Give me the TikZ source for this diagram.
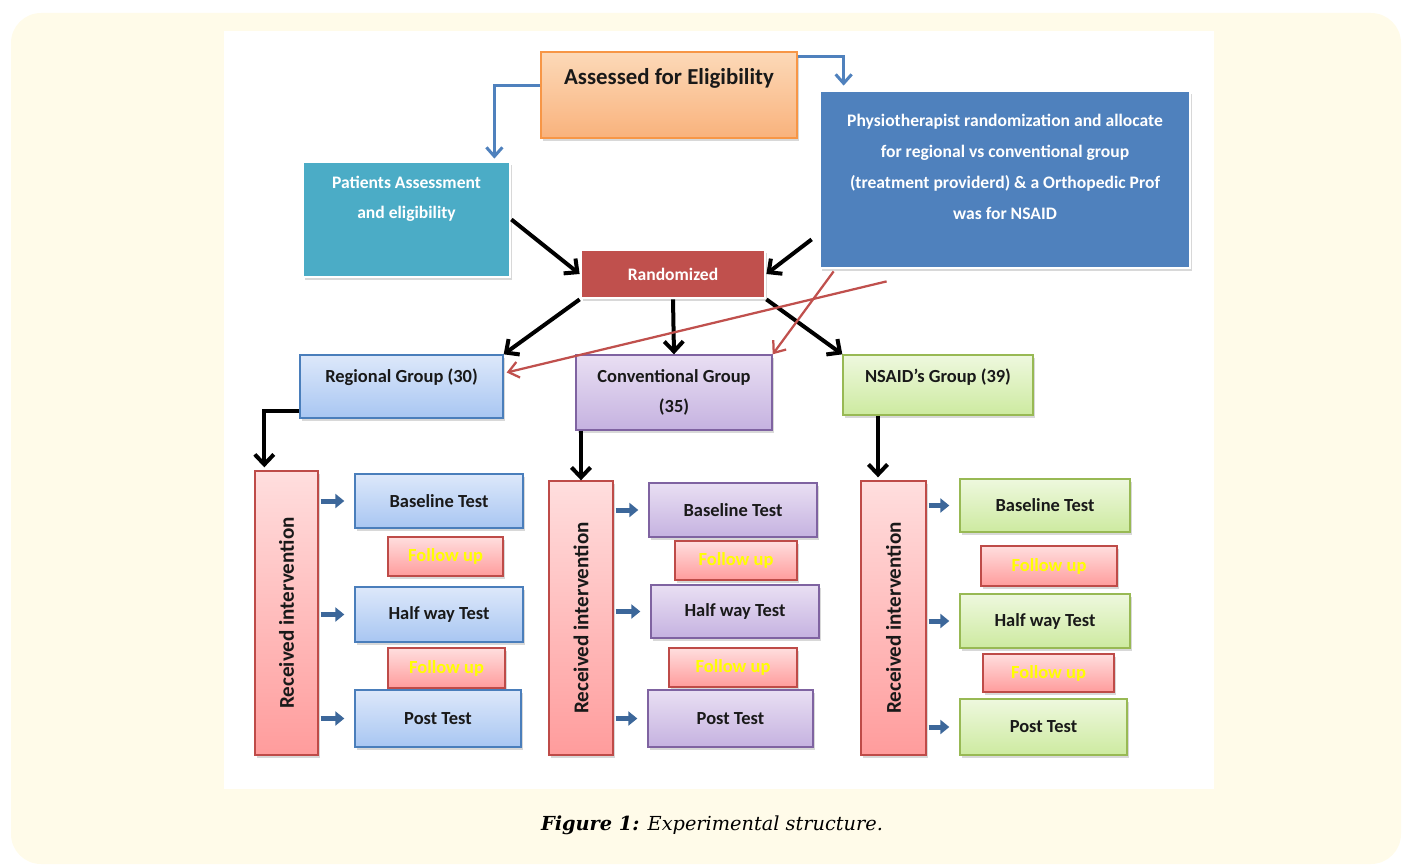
\documentclass[tikz,border=0pt]{standalone}
\usepackage{fontspec}
\setmainfont{Carlito}
\newfontfamily\capfont{DejaVu Serif}
\usepackage{xcolor}
\usepackage{tikz}
\usetikzlibrary{positioning,arrows.meta,shadows,calc}

\definecolor{panelbg}{HTML}{FFFBE9}
\definecolor{orgtop}{HTML}{FCD9B8}
\definecolor{orgbot}{HTML}{F9B27C}
\definecolor{orgline}{HTML}{F79646}
\definecolor{tealfill}{HTML}{4BACC6}
\definecolor{bluefill}{HTML}{4F81BD}
\definecolor{redfill}{HTML}{C0504D}
\definecolor{regtop}{HTML}{DDE8FA}
\definecolor{regbot}{HTML}{A8C6F2}
\definecolor{regline}{HTML}{4A7EBB}
\definecolor{contop}{HTML}{E9DFF3}
\definecolor{conbot}{HTML}{C5B2E0}
\definecolor{conline}{HTML}{7F63A1}
\definecolor{nsatop}{HTML}{EEF8DE}
\definecolor{nsabot}{HTML}{CDEAA0}
\definecolor{nsaline}{HTML}{98B954}
\definecolor{pinktop}{HTML}{FFDEDE}
\definecolor{pinkbot}{HTML}{FF9C9C}
\definecolor{pinkline}{HTML}{BE4B48}
\definecolor{tipblue}{HTML}{3C679A}
\definecolor{fuyellow}{HTML}{FFFF00}

\tikzset{
  shadebox/.style={drop shadow={shadow xshift=1.2pt,shadow yshift=-1.5pt,opacity=.3}, inner sep=1pt, text=black!90},
  orgbox/.style={shadebox, draw=orgline, line width=0.8pt, top color=orgtop, bottom color=orgbot, font=\fontsize{13}{16}\selectfont\bfseries},
  solidbox/.style={shadebox, draw=white, line width=1.6pt, text=white, font=\fontsize{10}{17}\selectfont\bfseries},
  regbox/.style={shadebox, draw=regline, line width=0.8pt, top color=regtop, bottom color=regbot, font=\fontsize{10.5}{17}\selectfont\bfseries},
  conbox/.style={shadebox, draw=conline, line width=0.8pt, top color=contop, bottom color=conbot, font=\fontsize{10.5}{17}\selectfont\bfseries},
  nsabox/.style={shadebox, draw=nsaline, line width=0.8pt, top color=nsatop, bottom color=nsabot, font=\fontsize{10.5}{17}\selectfont\bfseries},
  ribox/.style={shadebox, draw=pinkline, line width=0.8pt, top color=pinktop, bottom color=pinkbot, font=\fontsize{12}{14}\selectfont\bfseries},
  fubox/.style={shadebox, draw=pinkline, line width=0.8pt, top color=pinktop, bottom color=pinkbot, text=fuyellow, font=\fontsize{10.5}{12}\selectfont\bfseries},
  flow/.style={draw=bluefill, line width=0.06cm, -{Straight Barb[length=0.18cm,width=0.32cm]}},
  push/.style={draw=black, line width=0.08cm, -{Straight Barb[length=0.2cm,width=0.38cm]}},
  alloc/.style={draw=redfill, line width=0.045cm, -{Straight Barb[length=0.2cm,width=0.32cm]}},
  tip/.style={draw=tipblue, line width=0.1cm, shorten <=0.04cm, shorten >=0.2cm, -{Triangle[length=0.18cm,width=0.28cm]}}
}

\begin{document}
\begin{tikzpicture}[x=0.02cm, y=-0.02cm]
  % page panel and white plate
  \fill[panelbg, rounded corners=0.6cm] (11,13) rectangle (1401,864);
  \fill[white] (224,31) rectangle (1214,789);
  \useasboundingbox (0,0) rectangle (1402,865);

  % top part
  \node[orgbox, minimum width=5.12cm, minimum height=1.72cm, text depth=0.76cm] (ae) at (669,95) {Assessed for Eligibility};
  \node[solidbox, fill=tealfill, minimum width=4.14cm, minimum height=2.3cm, align=center, text depth=0.9cm] (pa) at (406.5,219.5) {Patients Assessment\\and eligibility};
  \node[solidbox, fill=bluefill, minimum width=7.4cm, minimum height=3.54cm, align=center, text depth=0.52cm, font=\fontsize{10}{17.6}\selectfont\bfseries] (ph) at (1005,179.5) {Physiotherapist randomization and allocate\\for regional vs conventional group\\(treatment providerd) \& a Orthopedic Prof\\was for NSAID};
  \node[solidbox, fill=redfill, minimum width=3.68cm, minimum height=0.96cm] (rz) at (673,274) {Randomized};

  % groups
  \node[regbox, minimum width=4.06cm, minimum height=1.26cm, text depth=0.42cm] (rg) at (401.5,386.5) {Regional Group (30)};
  \node[conbox, minimum width=3.92cm, minimum height=1.5cm, align=center] (cv) at (674,392.5) {Conventional Group\\(35)};
  \node[nsabox, minimum width=3.8cm, minimum height=1.2cm, text depth=0.36cm] (ns) at (938,385) {NSAID’s Group (39)};

  % regional column
  \node[ribox, minimum width=1.26cm, minimum height=5.68cm] (ri1) at (286.5,613) {\rotatebox{90}{Received intervention}};
  \node[regbox, minimum width=3.36cm, minimum height=1.08cm] (bt1) at (439,501) {Baseline Test};
  \node[fubox, minimum width=2.3cm, minimum height=0.78cm] (fa1) at (445.5,556.5) {Follow up};
  \node[regbox, minimum width=3.36cm, minimum height=1.1cm] (hw1) at (439,614.5) {Half way Test};
  \node[fubox, minimum width=2.34cm, minimum height=0.8cm] (fb1) at (446.5,668) {Follow up};
  \node[regbox, minimum width=3.32cm, minimum height=1.14cm] (pt1) at (438,718.5) {Post Test};

  % conventional column
  \node[ribox, minimum width=1.28cm, minimum height=5.48cm] (ri2) at (581,618) {\rotatebox{90}{Received intervention}};
  \node[conbox, minimum width=3.36cm, minimum height=1.08cm] (bt2) at (733,510) {Baseline Test};
  \node[fubox, minimum width=2.44cm, minimum height=0.78cm] (fa2) at (736,560.5) {Follow up};
  \node[conbox, minimum width=3.36cm, minimum height=1.06cm] (hw2) at (735,611.5) {Half way Test};
  \node[fubox, minimum width=2.56cm, minimum height=0.78cm] (fb2) at (733,667.5) {Follow up};
  \node[conbox, minimum width=3.3cm, minimum height=1.14cm] (pt2) at (730.5,718.5) {Post Test};

  % nsaid column
  \node[ribox, minimum width=1.3cm, minimum height=5.48cm] (ri3) at (893.5,618) {\rotatebox{90}{Received intervention}};
  \node[nsabox, minimum width=3.4cm, minimum height=1.06cm] (bt3) at (1045,505.5) {Baseline Test};
  \node[fubox, minimum width=2.72cm, minimum height=0.8cm] (fa3) at (1049,566) {Follow up};
  \node[nsabox, minimum width=3.4cm, minimum height=1.08cm] (hw3) at (1045,621) {Half way Test};
  \node[fubox, minimum width=2.62cm, minimum height=0.76cm] (fb3) at (1048.5,673) {Follow up};
  \node[nsabox, minimum width=3.34cm, minimum height=1.12cm] (pt3) at (1043.5,727) {Post Test};

  % caption
  \node[font=\capfont\fontsize{11}{13}\selectfont] (cap) at (712,825) {\textbf{\textit{Figure 1:}} \textit{Experimental structure.}};

  % connectors
  \draw[flow] ($(ae.west)+(0,-9)$) -| ($(pa.north east)+(-17,-2)$);
  \draw[flow] ($(ae.north east)+(0,5)$) -| ($(ph.north west)+(25,-4)$);
  \draw[push] (pa.east) -- (rz.west);
  \draw[push] ($(ph.south west)+(-7,-30)$) -- (rz.east);
  \draw[push] (rz.south west) -- (rg.north east);
  \draw[push] (rz.south) -- (cv.north);
  \draw[push] (rz.south east) -- (ns.north west);
  \draw[alloc] ($(ph.south west)+(68,12)$) -- ($(rg.east)+(3,-14)$);
  \draw[alloc] ($(ph.south west)+(15,2)$) -- (cv.north east);
  \draw[push] ($(rg.south west)+(0,-8)$) -| ($(ri1.north west)+(10,-3)$);
  \draw[push] (cv.south -| ri2.north) -- (ri2.north);
  \draw[push] ($(ns.south -| ri3.north)+(-15.5,0)$) -- ($(ri3.north)+(-15.5,-3)$);
  \foreach \c in {1,2,3}{
    \draw[tip] (ri\c.east |- bt\c.west) -- (bt\c.west);
    \draw[tip] (ri\c.east |- hw\c.west) -- (hw\c.west);
    \draw[tip] (ri\c.east |- pt\c.west) -- (pt\c.west);
  }
\end{tikzpicture}
\end{document}
